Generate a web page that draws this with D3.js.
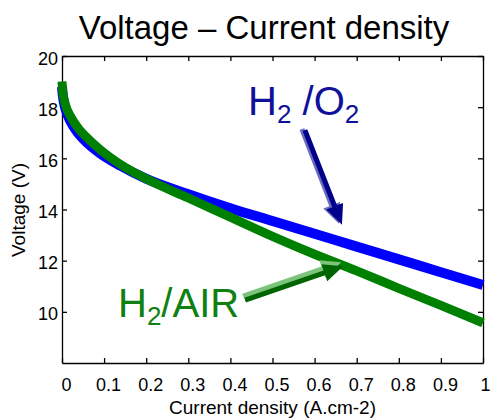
<!DOCTYPE html>
<html lang="en">
<head>
<meta charset="UTF-8">
<title>Voltage – Current density</title>
<script src="https://cdnjs.cloudflare.com/ajax/libs/d3/7.8.5/d3.min.js"></script>
<style>
  body { margin: 0; background: #fff; }
  text { font-family: "Liberation Sans", Arial, sans-serif; }
  .axis path, .axis line { stroke: #000; stroke-width: 1.3px; }
  .axis text { font-size: 18px; fill: #000; }
</style>
</head>
<body>
<svg width="491" height="419"></svg>
<script>
// current density (A.cm-2)
const current = [0, 0.002, 0.005, 0.01, 0.02, 0.04, 0.06, 0.09, 0.14, 0.2, 0.3, 0.4, 0.5, 0.6, 0.7, 0.8, 0.9, 1.0];
// stack voltage (V)
const voltO2  = [18.8, 18.45, 18.15, 17.85, 17.45, 16.95, 16.6, 16.2, 15.7, 15.2, 14.6, 14.05, 13.55, 13.05, 12.55, 12.05, 11.55, 11.05];
const voltAir = [19.0, 18.55, 18.3, 18.0, 17.65, 17.15, 16.8, 16.35, 15.75, 15.2, 14.45, 13.7, 12.95, 12.25, 11.6, 10.92, 10.25, 9.57];
const xTicks = [0, 0.1, 0.2, 0.3, 0.4, 0.5, 0.6, 0.7, 0.8, 0.9, 1];
const yTicks = [10, 12, 14, 16, 18, 20];

const svg = d3.select("svg");
const m = { left: 62, right: 483, top: 56, bottom: 363 };

const x = d3.scaleLinear().domain([0, 1]).range([m.left, m.right]);
const y = d3.scaleLinear().domain([8, 20]).range([m.bottom, m.top]);

// box with inward ticks on all sides
svg.append("g").attr("class", "axis")
  .attr("transform", `translate(0,${m.bottom})`)
  .call(d3.axisBottom(x).tickValues(xTicks).tickSizeInner(-5).tickSizeOuter(0)
    .tickFormat(d => d === 0 || d === 1 ? d3.format("d")(d) : d3.format(".1f")(d)))
  .call(g => g.selectAll("text").attr("y", 15).attr("dx", d => d === 1 ? 2 : 4));
svg.append("g").attr("class", "axis")
  .attr("transform", `translate(0,${m.top})`)
  .call(d3.axisTop(x).tickValues(xTicks).tickSizeInner(-5).tickSizeOuter(0).tickFormat(""));
svg.append("g").attr("class", "axis")
  .attr("transform", `translate(${m.left},0)`)
  .call(d3.axisLeft(y).tickValues(yTicks).tickSizeInner(-5).tickSizeOuter(0))
  .call(g => g.selectAll("text").attr("x", -4).attr("dy", "0.45em"));
svg.append("g").attr("class", "axis")
  .attr("transform", `translate(${m.right},0)`)
  .call(d3.axisRight(y).tickValues(yTicks).tickSizeInner(-5).tickSizeOuter(0).tickFormat(""));

// curves
const line = vals => d3.line()
  .x((d, i) => x(current[i]))
  .y(d => y(d))
  .curve(d3.curveMonotoneX)(vals);

svg.append("path").attr("d", line(voltO2))
  .attr("fill", "none").attr("stroke", "#0000ff").attr("stroke-width", 10);
svg.append("path").attr("d", line(voltAir))
  .attr("fill", "none").attr("stroke", "#008000").attr("stroke-width", 9);

// titles
svg.append("text").attr("x", 264).attr("y", 39)
  .attr("text-anchor", "middle").attr("font-size", 33).text("Voltage – Current density");
svg.append("text").attr("x", (m.left + m.right) / 2).attr("y", 414)
  .attr("text-anchor", "middle").attr("font-size", 19).text("Current density (A.cm-2)");
svg.append("text").attr("transform", "translate(25,210) rotate(-90)")
  .attr("text-anchor", "middle").attr("font-size", 19).text("Voltage (V)");

// block arrows
function arrow(x1, y1, x2, y2, sw, hw, hl) {
  const dx = x2 - x1, dy = y2 - y1, L = Math.hypot(dx, dy);
  const ux = dx / L, uy = dy / L, nx = -uy, ny = ux;
  const bx = x2 - ux * hl, by = y2 - uy * hl;
  const p = [
    [x1 + nx * sw / 2, y1 + ny * sw / 2],
    [bx + nx * sw / 2, by + ny * sw / 2],
    [bx + nx * hw / 2, by + ny * hw / 2],
    [x2, y2],
    [bx - nx * hw / 2, by - ny * hw / 2],
    [bx - nx * sw / 2, by - ny * sw / 2],
    [x1 - nx * sw / 2, y1 - ny * sw / 2]
  ];
  return "M" + p.map(q => q.join(",")).join("L") + "Z";
}

const annotations = [
  { from: [0.577, 17.1], to: [0.665, 13.4], dark: "#00008b", light: "#6a6ac0", off: [-3, -1] },
  { from: [0.435, 10.46], to: [0.668, 11.78], dark: "#006400", light: "#7cc47c", off: [-2, -4] }
];
annotations.forEach(a => {
  const x1 = x(a.from[0]), y1 = y(a.from[1]), x2 = x(a.to[0]), y2 = y(a.to[1]);
  svg.append("path").attr("d", arrow(x1 + a.off[0], y1 + a.off[1], x2 + a.off[0], y2 + a.off[1], 5, 18, 20))
    .attr("fill", a.light);
  svg.append("path").attr("d", arrow(x1, y1, x2, y2, 5, 18, 20)).attr("fill", a.dark);
});

// series labels
const o2 = svg.append("text").attr("x", x(0.442)).attr("y", y(17.7))
  .attr("font-size", 40).attr("fill", "#10109a");
o2.append("tspan").text("H");
o2.append("tspan").attr("font-size", 26).attr("dy", 8).text("2");
o2.append("tspan").attr("dy", -8).text(" /O");
o2.append("tspan").attr("font-size", 26).attr("dy", 8).text("2");

const air = svg.append("text").attr("x", x(0.133)).attr("y", y(9.8))
  .attr("font-size", 40).attr("fill", "#108010");
air.append("tspan").text("H");
air.append("tspan").attr("font-size", 26).attr("dy", 8).text("2");
air.append("tspan").attr("dy", -8).text("/AIR");
</script>
</body>
</html>
